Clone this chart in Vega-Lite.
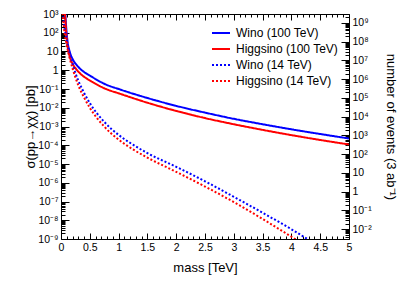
{
  "$schema": "https://vega.github.io/schema/vega-lite/v6.json",
  "width": 288,
  "height": 225,
  "autosize": {"type": "none"},
  "padding": {"left": 61, "top": 14, "right": 50, "bottom": 47},
  "background": "white",
  "config": {
    "font": "Liberation Sans",
    "view": {"stroke": "#000000", "strokeWidth": 1},
    "axis": {"domain": false, "grid": false, "tickColor": "#000000", "labelColor": "#000000", "titleColor": "#000000", "labelFontSize": 10.5, "titleFontSize": 13, "titleFontWeight": "normal", "labelFont": "Liberation Sans", "titleFont": "Liberation Sans"}
  },
  "datasets": {
    "curves": [
      {"m": 0.07, "s": 1778, "series": "Wino (100 TeV)"},
      {"m": 0.09, "s": 199.5, "series": "Wino (100 TeV)"},
      {"m": 0.115, "s": 31.6, "series": "Wino (100 TeV)"},
      {"m": 0.15, "s": 10, "series": "Wino (100 TeV)"},
      {"m": 0.21, "s": 3.55, "series": "Wino (100 TeV)"},
      {"m": 0.28, "s": 1.78, "series": "Wino (100 TeV)"},
      {"m": 0.36, "s": 1.0, "series": "Wino (100 TeV)"},
      {"m": 0.45, "s": 0.646, "series": "Wino (100 TeV)"},
      {"m": 0.53, "s": 0.457, "series": "Wino (100 TeV)"},
      {"m": 0.75, "s": 0.191, "series": "Wino (100 TeV)"},
      {"m": 1.05, "s": 0.0891, "series": "Wino (100 TeV)"},
      {"m": 1.5, "s": 0.0331, "series": "Wino (100 TeV)"},
      {"m": 2.0, "s": 0.0126, "series": "Wino (100 TeV)"},
      {"m": 2.5, "s": 0.0055, "series": "Wino (100 TeV)"},
      {"m": 3.0, "s": 0.00257, "series": "Wino (100 TeV)"},
      {"m": 3.5, "s": 0.00132, "series": "Wino (100 TeV)"},
      {"m": 4.0, "s": 0.000708, "series": "Wino (100 TeV)"},
      {"m": 4.5, "s": 0.000398, "series": "Wino (100 TeV)"},
      {"m": 5.0, "s": 0.000229, "series": "Wino (100 TeV)"},
      {"m": 0.065, "s": 1778, "series": "Higgsino (100 TeV)"},
      {"m": 0.09, "s": 100, "series": "Higgsino (100 TeV)"},
      {"m": 0.115, "s": 17.8, "series": "Higgsino (100 TeV)"},
      {"m": 0.15, "s": 5.62, "series": "Higgsino (100 TeV)"},
      {"m": 0.21, "s": 2.0, "series": "Higgsino (100 TeV)"},
      {"m": 0.28, "s": 1.0, "series": "Higgsino (100 TeV)"},
      {"m": 0.36, "s": 0.562, "series": "Higgsino (100 TeV)"},
      {"m": 0.45, "s": 0.355, "series": "Higgsino (100 TeV)"},
      {"m": 0.53, "s": 0.251, "series": "Higgsino (100 TeV)"},
      {"m": 0.75, "s": 0.11, "series": "Higgsino (100 TeV)"},
      {"m": 1.05, "s": 0.0525, "series": "Higgsino (100 TeV)"},
      {"m": 1.5, "s": 0.0186, "series": "Higgsino (100 TeV)"},
      {"m": 2.0, "s": 0.00676, "series": "Higgsino (100 TeV)"},
      {"m": 2.5, "s": 0.00282, "series": "Higgsino (100 TeV)"},
      {"m": 3.0, "s": 0.00132, "series": "Higgsino (100 TeV)"},
      {"m": 3.5, "s": 0.00066, "series": "Higgsino (100 TeV)"},
      {"m": 4.0, "s": 0.000347, "series": "Higgsino (100 TeV)"},
      {"m": 4.5, "s": 0.000191, "series": "Higgsino (100 TeV)"},
      {"m": 5.0, "s": 0.00011, "series": "Higgsino (100 TeV)"},
      {"m": 0.03, "s": 1259, "series": "Wino (14 TeV)"},
      {"m": 0.05, "s": 316, "series": "Wino (14 TeV)"},
      {"m": 0.1, "s": 39.8, "series": "Wino (14 TeV)"},
      {"m": 0.15, "s": 7.94, "series": "Wino (14 TeV)"},
      {"m": 0.2, "s": 2.24, "series": "Wino (14 TeV)"},
      {"m": 0.25, "s": 0.71, "series": "Wino (14 TeV)"},
      {"m": 0.3, "s": 0.282, "series": "Wino (14 TeV)"},
      {"m": 0.4, "s": 0.0631, "series": "Wino (14 TeV)"},
      {"m": 0.5, "s": 0.0178, "series": "Wino (14 TeV)"},
      {"m": 0.75, "s": 0.00178, "series": "Wino (14 TeV)"},
      {"m": 1.0, "s": 0.000355, "series": "Wino (14 TeV)"},
      {"m": 1.25, "s": 0.000107, "series": "Wino (14 TeV)"},
      {"m": 1.5, "s": 3.8e-5, "series": "Wino (14 TeV)"},
      {"m": 2.0, "s": 7.08e-6, "series": "Wino (14 TeV)"},
      {"m": 2.5, "s": 1.2e-6, "series": "Wino (14 TeV)"},
      {"m": 3.0, "s": 1.78e-7, "series": "Wino (14 TeV)"},
      {"m": 3.5, "s": 2.51e-8, "series": "Wino (14 TeV)"},
      {"m": 4.0, "s": 3.31e-9, "series": "Wino (14 TeV)"},
      {"m": 4.3, "s": 9.0e-10, "series": "Wino (14 TeV)"},
      {"m": 0.03, "s": 1122, "series": "Higgsino (14 TeV)"},
      {"m": 0.05, "s": 200, "series": "Higgsino (14 TeV)"},
      {"m": 0.1, "s": 22.4, "series": "Higgsino (14 TeV)"},
      {"m": 0.15, "s": 4.47, "series": "Higgsino (14 TeV)"},
      {"m": 0.2, "s": 1.26, "series": "Higgsino (14 TeV)"},
      {"m": 0.25, "s": 0.417, "series": "Higgsino (14 TeV)"},
      {"m": 0.3, "s": 0.158, "series": "Higgsino (14 TeV)"},
      {"m": 0.4, "s": 0.0355, "series": "Higgsino (14 TeV)"},
      {"m": 0.5, "s": 0.01, "series": "Higgsino (14 TeV)"},
      {"m": 0.75, "s": 0.001, "series": "Higgsino (14 TeV)"},
      {"m": 1.0, "s": 0.0002, "series": "Higgsino (14 TeV)"},
      {"m": 1.25, "s": 6.0e-5, "series": "Higgsino (14 TeV)"},
      {"m": 1.5, "s": 2.19e-5, "series": "Higgsino (14 TeV)"},
      {"m": 2.0, "s": 3.8e-6, "series": "Higgsino (14 TeV)"},
      {"m": 2.5, "s": 6.3e-7, "series": "Higgsino (14 TeV)"},
      {"m": 3.0, "s": 9.3e-8, "series": "Higgsino (14 TeV)"},
      {"m": 3.5, "s": 1.17e-8, "series": "Higgsino (14 TeV)"},
      {"m": 4.0, "s": 1.32e-9, "series": "Higgsino (14 TeV)"},
      {"m": 4.1, "s": 8.5e-10, "series": "Higgsino (14 TeV)"}
    ],
    "dummy": [{"m": 1, "ev": 1}]
  },
  "layer": [
    {
      "data": {"name": "curves"},
      "mark": {"type": "line", "clip": true, "strokeWidth": 2, "interpolate": "monotone"},
      "encoding": {
        "x": {"field": "m", "type": "quantitative", "title": "mass [TeV]",
          "scale": {"domain": [0, 5], "nice": false, "zero": false},
          "axis": {"orient": "bottom", "values": [0,0.1,0.2,0.3,0.4,0.5,0.6,0.7,0.8,0.9,1,1.1,1.2,1.3,1.4,1.5,1.6,1.7,1.8,1.9,2,2.1,2.2,2.3,2.4,2.5,2.6,2.7,2.8,2.9,3,3.1,3.2,3.3,3.4,3.5,3.6,3.7,3.8,3.9,4,4.1,4.2,4.3,4.4,4.5,4.6,4.7,4.8,4.9,5],
            "labelExpr": "abs(datum.value*2 - round(datum.value*2)) < 0.001 ? format(datum.value, '~g') : ''",
            "tickSize": {"condition": {"test": "abs(datum.value*2 - round(datum.value*2)) < 0.001", "value": -6}, "value": -3},
            "labelPadding": 9, "labelFlush": false, "labelOverlap": false, "titlePadding": 6}},
        "y": {"field": "s", "type": "quantitative", "title": "σ(pp→χχ) [pb]",
          "scale": {"type": "log", "domain": [1e-9, 1000], "nice": false},
          "axis": {"orient": "left", "values": [1e-9,2e-9,3e-9,4e-9,5e-9,6e-9,7e-9,8e-9,9e-9,1e-8,2e-8,3e-8,4e-8,5e-8,6e-8,7e-8,8e-8,9e-8,1e-7,2e-7,3e-7,4e-7,5e-7,6e-7,7e-7,8e-7,9e-7,1e-6,2e-6,3e-6,4e-6,5e-6,6e-6,7e-6,8e-6,9e-6,1e-5,2e-5,3e-5,4e-5,5e-5,6e-5,7e-5,8e-5,9e-5,1e-4,2e-4,3e-4,4e-4,5e-4,6e-4,7e-4,8e-4,9e-4,0.001,0.002,0.003,0.004,0.005,0.006,0.007,0.008,0.009,0.01,0.02,0.03,0.04,0.05,0.06,0.07,0.08,0.09,0.1,0.2,0.3,0.4,0.5,0.6,0.7,0.8,0.9,1,2,3,4,5,6,7,8,9,10,20,30,40,50,60,70,80,90,100,200,300,400,500,600,700,800,900,1000],
            "labelExpr": "abs(log(datum.value)/LN10 - round(log(datum.value)/LN10)) > 0.001 ? '' : (round(log(datum.value)/LN10) == 0 ? '1' : (round(log(datum.value)/LN10) == 1 ? '10' : '10' + (round(log(datum.value)/LN10) < 0 ? '⁻' : '') + ['⁰','¹','²','³','⁴','⁵','⁶','⁷','⁸','⁹'][abs(round(log(datum.value)/LN10))]))",
            "tickSize": {"condition": {"test": "abs(log(datum.value)/LN10 - round(log(datum.value)/LN10)) < 0.001", "value": -8}, "value": -4},
            "labelPadding": 11, "labelFlush": false, "labelOverlap": false, "titlePadding": 0}},
        "color": {"field": "series", "type": "nominal",
          "scale": {"domain": ["Wino (100 TeV)", "Higgsino (100 TeV)", "Wino (14 TeV)", "Higgsino (14 TeV)"], "range": ["#0000ff", "#ff0000", "#0000ff", "#ff0000"]},
          "legend": {"orient": "none", "legendX": 150, "legendY": 9, "title": null, "symbolType": "stroke", "symbolSize": 324, "symbolStrokeWidth": 2, "labelFontSize": 12, "labelColor": "#000000", "rowPadding": -2, "padding": 0, "labelOffset": 5}},
        "strokeDash": {"field": "series", "type": "nominal",
          "scale": {"domain": ["Wino (100 TeV)", "Higgsino (100 TeV)", "Wino (14 TeV)", "Higgsino (14 TeV)"], "range": [[1, 0], [1, 0], [2, 2], [2, 2]]},
          "legend": {"orient": "none", "legendX": 150, "legendY": 9, "title": null, "symbolType": "stroke", "symbolSize": 324, "symbolStrokeWidth": 2, "labelFontSize": 12, "labelColor": "#000000", "rowPadding": -2, "padding": 0, "labelOffset": 5}}
      }
    },
    {
      "data": {"name": "dummy"},
      "mark": {"type": "point", "opacity": 0},
      "encoding": {
        "x": {"field": "m", "type": "quantitative",
          "axis": {"orient": "top", "title": null, "labels": false, "values": [0,0.1,0.2,0.3,0.4,0.5,0.6,0.7,0.8,0.9,1,1.1,1.2,1.3,1.4,1.5,1.6,1.7,1.8,1.9,2,2.1,2.2,2.3,2.4,2.5,2.6,2.7,2.8,2.9,3,3.1,3.2,3.3,3.4,3.5,3.6,3.7,3.8,3.9,4,4.1,4.2,4.3,4.4,4.5,4.6,4.7,4.8,4.9,5],
            "tickSize": {"condition": {"test": "abs(datum.value*2 - round(datum.value*2)) < 0.001", "value": -6}, "value": -3}}}
      }
    },
    {
      "data": {"name": "dummy"},
      "mark": {"type": "point", "opacity": 0},
      "encoding": {
        "y": {"field": "ev", "type": "quantitative", "title": "number of events (3 ab⁻¹)",
          "scale": {"type": "log", "domain": [0.003, 3000000000], "nice": false},
          "axis": {"orient": "right", "values": [0.003,0.004,0.005,0.006,0.007,0.008,0.009,0.01,0.02,0.03,0.04,0.05,0.06,0.07,0.08,0.09,0.1,0.2,0.3,0.4,0.5,0.6,0.7,0.8,0.9,1,2,3,4,5,6,7,8,9,10,20,30,40,50,60,70,80,90,100,200,300,400,500,600,700,800,900,1000,2000,3000,4000,5000,6000,7000,8000,9000,1e4,2e4,3e4,4e4,5e4,6e4,7e4,8e4,9e4,1e5,2e5,3e5,4e5,5e5,6e5,7e5,8e5,9e5,1e6,2e6,3e6,4e6,5e6,6e6,7e6,8e6,9e6,1e7,2e7,3e7,4e7,5e7,6e7,7e7,8e7,9e7,1e8,2e8,3e8,4e8,5e8,6e8,7e8,8e8,9e8,1e9,2e9,3e9],
            "labelExpr": "abs(log(datum.value)/LN10 - round(log(datum.value)/LN10)) > 0.001 ? '' : (round(log(datum.value)/LN10) == 0 ? '1' : (round(log(datum.value)/LN10) == 1 ? '10' : '10' + (round(log(datum.value)/LN10) < 0 ? '⁻' : '') + ['⁰','¹','²','³','⁴','⁵','⁶','⁷','⁸','⁹'][abs(round(log(datum.value)/LN10))]))",
            "tickSize": {"condition": {"test": "abs(log(datum.value)/LN10 - round(log(datum.value)/LN10)) < 0.001", "value": -8}, "value": -4},
            "labelPadding": 11, "labelFlush": false, "labelOverlap": false, "titlePadding": 12}}
      }
    }
  ],
  "resolve": {"scale": {"y": "independent"}, "axis": {"y": "independent"}}
}
